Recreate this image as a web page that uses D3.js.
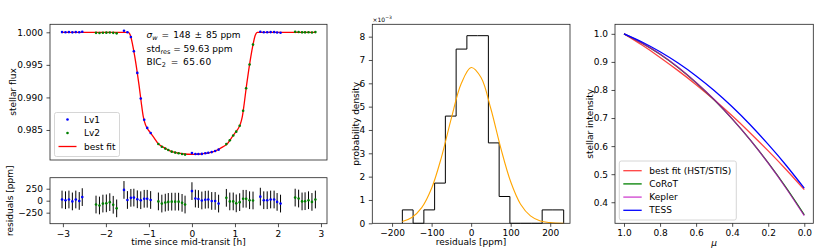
<!DOCTYPE html>
<html lang="en">
<head>
<meta charset="UTF-8">
<title>transit light curve fit</title>
<script src="https://cdn.jsdelivr.net/npm/d3@7"></script>
<style>
  body { margin: 0; background: #fff; }
  svg text { font-family: "DejaVu Sans", sans-serif; fill: #000; }
  .axis line { stroke: #222; stroke-width: 0.8; }
  .axis path { display: none; }
  .axis text { font-size: 9px; }
  .frame { fill: none; stroke: #222; stroke-width: 0.8; }
  .lbl { font-size: 9px; }
</style>
</head>
<body>
<svg id="fig" width="830" height="249"></svg>
<script>
// ---- light curve: visit level 1 (blue) and level 2 (green)
const timeLv1 = [-3.02,-2.94,-2.86,-2.78,-2.70,-2.62,-2.55,
  -1.58,-1.50,-1.42,-1.35,-1.27,-1.19,-1.11,-1.04,-0.96,
  0.00,0.08,0.15,0.23,0.31,0.38,0.46,0.54,0.62,
  1.59,1.67,1.75,1.83,1.91,1.98,2.06];
const fluxLv1 = [1.00003,1.00001,1.00003,0.99999,1.00003,1.00000,1.00008,
  1.00023,1.00002,0.99928,0.99709,0.99377,0.98983,0.98656,0.98532,0.98454,
  0.98145,0.98131,0.98132,0.98133,0.98142,0.98151,0.98160,0.98178,0.98198,
  1.00009,1.00001,1.00001,1.00003,1.00003,0.99998,0.99994];
const resLv1 = [25,10,25,-15,25,-5,75,
  225,15,60,65,30,10,40,40,15,
  200,45,35,5,20,25,-5,-5,-60,
  85,10,10,25,25,-25,-60];

const timeLv2 = [-2.23,-2.15,-2.07,-1.99,-1.91,-1.83,-1.75,
  -0.78,-0.70,-0.62,-0.55,-0.47,-0.39,-0.31,-0.23,-0.16,
  0.80,0.88,0.96,1.03,1.11,1.19,1.26,1.34,1.42,
  2.40,2.48,2.56,2.63,2.71,2.79,2.87];
const fluxLv2 = [0.99992,0.99990,0.99994,0.99995,0.99997,0.99992,0.99984,
  0.98285,0.98243,0.98214,0.98192,0.98167,0.98153,0.98143,0.98132,0.98122,
  0.98283,0.98341,0.98415,0.98474,0.98564,0.98796,0.99142,0.99505,0.99811,
  1.00007,1.00005,0.99999,0.99999,1.00001,0.99998,1.00003];
const resLv2 = [-80,-100,-60,-55,-30,-85,-160,
  -15,-60,-40,-25,-20,-20,-20,-45,-80,
  60,-15,-15,-55,-30,40,40,10,5,
  65,45,-15,-10,10,-25,25];

const resErr = 185; // ppm, error bar half length

// best fit model
const modelTime = [-3.02,-1.48,-1.43,-1.38,-1.33,-1.28,-1.23,-1.18,-1.13,-1.08,-1.03,-0.98,
  -0.88,-0.78,-0.68,-0.58,-0.48,-0.38,-0.28,-0.18,-0.08,0.02,0.12,0.22,0.32,0.42,0.52,
  0.62,0.72,0.82,0.92,1.02,1.07,1.12,1.17,1.22,1.27,1.32,1.37,1.42,1.47,1.52,2.87];
const modelFlux = [1.00000,1.00000,0.99950,0.99810,0.99630,0.99420,0.99190,0.98930,0.98700,0.98580,0.98515,0.98470,
  0.98380,0.98286,0.98240,0.98204,0.98171,0.98153,0.98141,0.98131,0.98127,0.98125,0.98127,0.98131,0.98141,0.98153,0.98171,
  0.98204,0.98240,0.98286,0.98380,0.98470,0.98515,0.98580,0.98700,0.98930,0.99190,0.99420,0.99630,0.99810,0.99950,1.00000,1.00000];

// ---- residual histogram
const binEdges = [-174,-146.8,-119.6,-92.4,-65.2,-38,-10.8,16.4,43.6,70.8,98,125.2,152.4,179.6,206.8,234];
const gaussX = [-174,-150,-125,-100,-75,-50,-25,0,25,50,75,100,125,150,175,200,234];
const gaussY = [0.08,0.25,0.67,1.50,2.84,4.51,5.99,6.68,6.25,4.90,3.22,1.78,0.82,0.32,0.10,0.03,0.00];

// ---- limb darkening profiles
const mu = [1.0,0.9,0.8,0.7,0.6,0.5,0.4,0.3,0.2,0.1,0.0];
const ldFit = [1.000,0.960,0.916,0.869,0.819,0.765,0.708,0.647,0.583,0.516,0.445];
const ldCorot = [1.000,0.967,0.927,0.880,0.826,0.765,0.697,0.622,0.540,0.451,0.355];
const ldKepler = [1.000,0.967,0.928,0.881,0.827,0.766,0.697,0.622,0.539,0.449,0.352];
const ldTess = [1.000,0.971,0.936,0.896,0.850,0.798,0.740,0.676,0.606,0.531,0.450];
const ldNames = ["best fit (HST/STIS)", "CoRoT", "Kepler", "TESS"];
const ldColors = ["#ff0000", "#008000", "#bf00bf", "#0000ff"];

const svg = d3.select("#fig");

function frame(x0, y0, x1, y1) {
    svg.append("rect").attr("class", "frame")
        .attr("x", x0).attr("y", y0).attr("width", x1 - x0).attr("height", y1 - y0);
}
function yLabel(text, x, y) {
    svg.append("text").attr("class", "lbl")
        .attr("transform", `translate(${x},${y}) rotate(-90)`)
        .attr("text-anchor", "middle").attr("dominant-baseline", "central")
        .text(text);
}
function xLabel(text, x, y) {
    return svg.append("text").attr("class", "lbl")
        .attr("x", x).attr("y", y)
        .attr("text-anchor", "middle").attr("dominant-baseline", "central")
        .text(text);
}

// ================= top left: light curve
const xT = d3.scaleLinear().domain([-3.30, 3.14]).range([50, 327]);
const yF = d3.scaleLinear().domain([0.98039, 1.00123]).range([160, 24.3]);

svg.append("g").attr("class", "axis").attr("transform", "translate(50,0)")
    .call(d3.axisLeft(yF).tickValues([0.985, 0.990, 0.995, 1.000]).tickFormat(d3.format(".3f"))
        .tickSize(3.5).tickPadding(3.5));

const lineModel = d3.line().x((d, i) => xT(modelTime[i])).y(d => yF(d)).curve(d3.curveMonotoneX);
svg.append("path").attr("d", lineModel(modelFlux))
    .attr("fill", "none").attr("stroke", "#ff0000").attr("stroke-width", 1.3);

svg.append("g").selectAll("circle").data(timeLv1).join("circle")
    .attr("cx", d => xT(d)).attr("cy", (d, i) => yF(fluxLv1[i])).attr("r", 1.3).attr("fill", "#0000ff");
svg.append("g").selectAll("circle").data(timeLv2).join("circle")
    .attr("cx", d => xT(d)).attr("cy", (d, i) => yF(fluxLv2[i])).attr("r", 1.3).attr("fill", "#008000");

frame(50, 24.3, 327, 160);
yLabel("stellar flux", 12.7, 92);

// statistics text (mathtext style spacing round the operators)
const stats = svg.append("g").attr("font-size", "9px");
let t1 = stats.append("text").attr("x", 146.5).attr("y", 38);
t1.append("tspan").attr("font-style", "italic").text("σ");
t1.append("tspan").attr("font-style", "italic").attr("font-size", "6.5px").attr("dy", 2).text("w");
t1.append("tspan").attr("dy", -2).attr("dx", 1.2).text(" = ");
t1.append("tspan").attr("dx", 1.2).text("148 ");
t1.append("tspan").attr("dx", 1.2).text("± ");
t1.append("tspan").attr("dx", 1.2).text("85 ppm");
let t2 = stats.append("text").attr("x", 146.5).attr("y", 51.5);
t2.append("tspan").text("std");
t2.append("tspan").attr("font-size", "6.5px").attr("dy", 2).text("res");
t2.append("tspan").attr("dy", -2).text(" = 59.63 ppm");
let t3 = stats.append("text").attr("x", 146.5).attr("y", 65);
t3.append("tspan").text("BIC");
t3.append("tspan").attr("font-size", "6.5px").attr("dy", 2).text("2");
t3.append("tspan").attr("dy", -2).attr("dx", 2).text(" = ");
t3.append("tspan").attr("dx", 2).attr("letter-spacing", "0.6").text("65.60");

// legend
const lg = svg.append("g");
lg.append("rect").attr("x", 54.5).attr("y", 112.5).attr("width", 65).attr("height", 44)
    .attr("rx", 2).attr("fill", "#fff").attr("fill-opacity", 0.8).attr("stroke", "#ccc").attr("stroke-width", 0.8);
[["Lv1", "#0000ff"], ["Lv2", "#008000"]].forEach((e, i) => {
    lg.append("circle").attr("cx", 67.5).attr("cy", 119.5 + i * 13.5).attr("r", 1.3).attr("fill", e[1]);
    lg.append("text").attr("class", "lbl").attr("x", 84).attr("y", 119.5 + i * 13.5)
        .attr("dominant-baseline", "central").text(e[0]);
});
lg.append("line").attr("x1", 58.5).attr("x2", 76.5).attr("y1", 146.5).attr("y2", 146.5)
    .attr("stroke", "#ff0000").attr("stroke-width", 1.3);
lg.append("text").attr("class", "lbl").attr("x", 84).attr("y", 146.5)
    .attr("dominant-baseline", "central").text("best fit");

// ================= bottom left: residuals
const yR = d3.scaleLinear().domain([-480, 480]).range([223.7, 177.7]);
svg.append("g").attr("class", "axis").attr("transform", "translate(50,0)")
    .call(d3.axisLeft(yR).tickValues([-250, 0, 250]).tickSize(3.5).tickPadding(3.5));
svg.append("g").attr("class", "axis").attr("transform", "translate(0,223.7)")
    .call(d3.axisBottom(xT).tickValues([-3, -2, -1, 0, 1, 2, 3]).tickFormat(d3.format("d"))
        .tickSize(3.5).tickPadding(3));

function residuals(times, res, color) {
    const g = svg.append("g");
    g.selectAll("line").data(times).join("line")
        .attr("x1", d => xT(d)).attr("x2", d => xT(d))
        .attr("y1", (d, i) => yR(res[i] - resErr)).attr("y2", (d, i) => yR(res[i] + resErr))
        .attr("stroke", "#000").attr("stroke-width", 1);
    g.selectAll("circle").data(times).join("circle")
        .attr("cx", d => xT(d)).attr("cy", (d, i) => yR(res[i])).attr("r", 1.3).attr("fill", color);
}
residuals(timeLv1, resLv1, "#0000ff");
residuals(timeLv2, resLv2, "#008000");

frame(50, 177.7, 327, 223.7);
yLabel("residuals [ppm]", 10, 200.7);
xLabel("time since mid-transit [h]", 188.5, 242);

// ================= middle: histogram of residuals
const allRes = resLv1.concat(resLv2);
const xH = d3.scaleLinear().domain([-250, 250]).range([372.3, 570]);
const yH = d3.scaleLinear().domain([0, 8.53]).range([223.3, 24.3]);

const bins = d3.bin().domain([binEdges[0], binEdges[binEdges.length - 1]])
    .thresholds(binEdges.slice(1, -1))(allRes);
const stepPts = [[bins[0].x0, 0]];
bins.forEach(b => {
    const dens = b.length / (allRes.length * (b.x1 - b.x0)) * 1000;
    stepPts.push([b.x0, dens], [b.x1, dens]);
});
stepPts.push([bins[bins.length - 1].x1, 0]);
svg.append("path").attr("d", d3.line().x(d => xH(d[0])).y(d => yH(d[1]))(stepPts))
    .attr("fill", "none").attr("stroke", "#000").attr("stroke-width", 1);

const lineGauss = d3.line().x((d, i) => xH(gaussX[i])).y(d => yH(d)).curve(d3.curveCatmullRom);
svg.append("path").attr("d", lineGauss(gaussY))
    .attr("fill", "none").attr("stroke", "#ffa500").attr("stroke-width", 1.1);

svg.append("g").attr("class", "axis").attr("transform", "translate(372.3,0)")
    .call(d3.axisLeft(yH).tickValues(d3.range(0, 9)).tickSize(3.5).tickPadding(3.5));
svg.append("g").attr("class", "axis").attr("transform", "translate(0,223.3)")
    .call(d3.axisBottom(xH).tickValues([-200, -100, 0, 100, 200]).tickSize(3.5).tickPadding(3));
frame(372.3, 24.3, 570, 223.3);
yLabel("probability density", 356, 123.8);
xLabel("residuals [ppm]", 471, 242);
const sc = svg.append("text").attr("x", 372.5).attr("y", 21.5).attr("font-size", "6px");
sc.append("tspan").text("×10");
sc.append("tspan").attr("font-size", "4.5px").attr("dy", -2.5).text("−3");

// ================= right: limb darkening
const xM = d3.scaleLinear().domain([1.05, -0.05]).range([615, 813.3]);
const yI = d3.scaleLinear().domain([0.325, 1.034]).range([223.3, 24.3]);
const lineLD = d3.line().x((d, i) => xM(mu[i])).y(d => yI(d)).curve(d3.curveNatural);
[ldFit, ldCorot, ldKepler, ldTess].forEach((s, k) => {
    svg.append("path").attr("d", lineLD(s)).attr("fill", "none")
        .attr("stroke", ldColors[k]).attr("stroke-width", 1.3)
        .attr("stroke-opacity", k === 0 || k === 2 ? 0.75 : 1);
});
svg.append("g").attr("class", "axis").attr("transform", "translate(615,0)")
    .call(d3.axisLeft(yI).tickValues([0.4, 0.5, 0.6, 0.7, 0.8, 0.9, 1.0]).tickFormat(d3.format(".1f"))
        .tickSize(3.5).tickPadding(3.5));
svg.append("g").attr("class", "axis").attr("transform", "translate(0,223.3)")
    .call(d3.axisBottom(xM).tickValues([1.0, 0.8, 0.6, 0.4, 0.2, 0.0]).tickFormat(d3.format(".1f"))
        .tickSize(3.5).tickPadding(3));
frame(615, 24.3, 813.3, 223.3);
yLabel("stellar intensity", 590, 123.8);
xLabel("μ", 714, 243).attr("font-style", "italic");

const lg2 = svg.append("g");
lg2.append("rect").attr("x", 619.3).attr("y", 161).attr("width", 117).attr("height", 59)
    .attr("rx", 2).attr("fill", "#fff").attr("fill-opacity", 0.8).attr("stroke", "#ccc").attr("stroke-width", 0.8);
ldNames.forEach((n, k) => {
    const y = 170.7 + k * 13.2;
    lg2.append("line").attr("x1", 623.3).attr("x2", 641.7).attr("y1", y).attr("y2", y)
        .attr("stroke", ldColors[k]).attr("stroke-width", 1.3)
        .attr("stroke-opacity", k === 0 || k === 2 ? 0.75 : 1);
    lg2.append("text").attr("class", "lbl").attr("x", 649.3).attr("y", y)
        .attr("dominant-baseline", "central").text(n);
});
</script>
</body>
</html>
